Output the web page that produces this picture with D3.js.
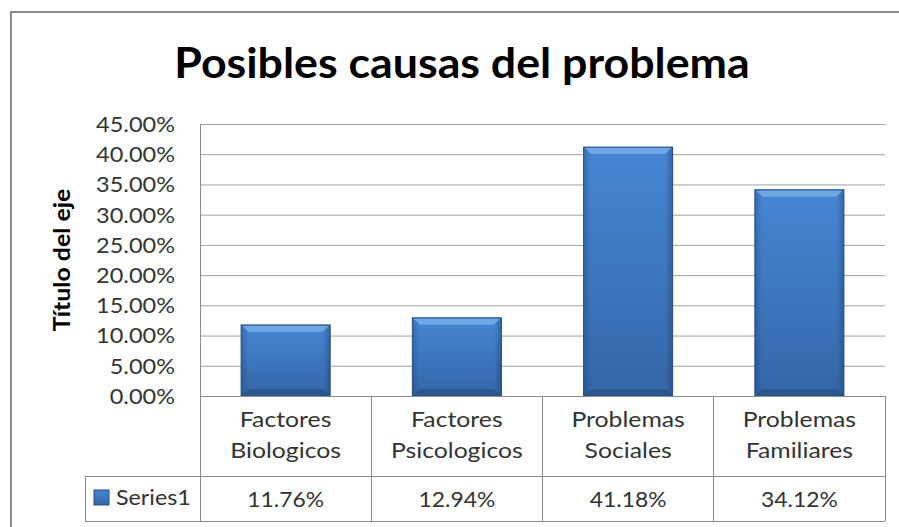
<!DOCTYPE html>
<html>
<head>
<meta charset="utf-8">
<script src="https://cdn.jsdelivr.net/npm/d3@7"></script>
<style>
  body { margin: 0; background: #fff; }
  svg { display: block; font-family: Lato, "Open Sans", sans-serif; }
</style>
</head>
<body>
<div id="chart"></div>
<script>
// Chart data
const categories = ["Factores Biologicos", "Factores Psicologicos", "Problemas Sociales", "Problemas Familiares"];
const seriesName = "Series1";
const values = [0.1176, 0.1294, 0.4118, 0.3412];
const yTicks = [0, 0.05, 0.10, 0.15, 0.20, 0.25, 0.30, 0.35, 0.40, 0.45];
const chartTitle = "Posibles causas del problema";
const yAxisTitle = "Título del eje";

const width = 899;
const height = 527;
const plot = { left: 200, right: 885, top: 124, bottom: 396 };
const table = { legendLeft: 85, rowMid: 476, bottom: 521 };

const pct = d3.format(".2%");

// the original picture is a little wider than tall, so text gets a horizontal stretch
function stretched(x, y, k) {
    return `translate(${x},${y}) scale(${k},1)`;
}

const svg = d3.select("#chart").append("svg")
    .attr("width", width)
    .attr("height", height);

// gradients for the bevelled bars
const defs = svg.append("defs");
const grad = defs.append("linearGradient")
    .attr("id", "barFill").attr("x1", 0).attr("y1", 0).attr("x2", 0).attr("y2", 1);
grad.append("stop").attr("offset", "0%").attr("stop-color", "#4686d4");
grad.append("stop").attr("offset", "100%").attr("stop-color", "#3466a7");
const side = defs.append("linearGradient")
    .attr("id", "barSide").attr("x1", 0).attr("y1", 0).attr("x2", 1).attr("y2", 0);
side.append("stop").attr("offset", "0%").attr("stop-color", "#1e3f6a").attr("stop-opacity", 0.35);
side.append("stop").attr("offset", "8%").attr("stop-color", "#1e3f6a").attr("stop-opacity", 0);
side.append("stop").attr("offset", "92%").attr("stop-color", "#1e3f6a").attr("stop-opacity", 0);
side.append("stop").attr("offset", "100%").attr("stop-color", "#1e3f6a").attr("stop-opacity", 0.45);

// outer chart border (runs off the right and bottom of the picture)
svg.append("rect")
    .attr("x", 11).attr("y", 12)
    .attr("width", width).attr("height", height)
    .attr("fill", "#fff")
    .attr("stroke", "#8a8a8a")
    .attr("stroke-width", 2);

// scales
const x = d3.scaleBand()
    .domain(categories)
    .range([plot.left, plot.right])
    .paddingInner(0.48)
    .paddingOuter(0.24);

const col = d3.scaleBand()
    .domain(categories)
    .range([plot.left, plot.right]);

const y = d3.scaleLinear()
    .domain([0, 0.45])
    .range([plot.bottom, plot.top]);

// gridlines
svg.append("g")
    .attr("transform", `translate(${plot.left},0)`)
    .call(d3.axisLeft(y).tickValues(yTicks).tickSize(-(plot.right - plot.left)).tickFormat(""))
    .call(g => g.select(".domain").remove())
    .selectAll("line")
    .attr("stroke", "#a0a0a0");

// y axis labels
svg.append("g")
    .attr("transform", `translate(${plot.left},0)`)
    .call(d3.axisLeft(y).tickValues(yTicks).tickSize(0).tickFormat(pct))
    .call(g => g.select(".domain").remove())
    .selectAll("text")
    .attr("x", null)
    .attr("dy", "0.35em")
    .attr("transform", stretched(-25, 0, 1.12))
    .attr("fill", "#333")
    .style("font-family", "Lato")
    .style("font-size", "21px");

// bars
const bars = svg.append("g").selectAll("g")
    .data(values)
    .join("g");

bars.append("rect")
    .attr("x", (d, i) => x(categories[i]))
    .attr("y", d => y(d))
    .attr("width", x.bandwidth())
    .attr("height", d => y(0) - y(d))
    .attr("fill", "url(#barFill)")
    .attr("stroke", "#2b4f7e")
    .attr("stroke-width", 1);

bars.append("rect")
    .attr("x", (d, i) => x(categories[i]))
    .attr("y", d => y(d))
    .attr("width", x.bandwidth())
    .attr("height", d => y(0) - y(d))
    .attr("fill", "url(#barSide)");

// top highlight of the bevel
bars.append("path")
    .attr("d", (d, i) => {
        const x0 = x(categories[i]), x1 = x0 + x.bandwidth(), y0 = y(d);
        return `M${x0 + 1},${y0 + 1}H${x1 - 1}L${x1 - 8},${y0 + 7}H${x0 + 8}Z`;
    })
    .attr("fill", "#8cbcf0")
    .attr("opacity", 0.6);

// bottom shadow of the bevel
bars.append("path")
    .attr("d", (d, i) => {
        const x0 = x(categories[i]), x1 = x0 + x.bandwidth(), yb = y(0);
        return `M${x0 + 1},${yb - 1}H${x1 - 1}L${x1 - 8},${yb - 7}H${x0 + 8}Z`;
    })
    .attr("fill", "#1f426e")
    .attr("opacity", 0.45);

// data table lines
const lines = svg.append("g")
    .attr("stroke", "#8c8c8c")
    .attr("stroke-width", 1)
    .attr("shape-rendering", "crispEdges");

lines.append("line")
    .attr("x1", plot.left).attr("x2", plot.left)
    .attr("y1", plot.top).attr("y2", table.bottom);

lines.selectAll(".colline")
    .data(categories)
    .join("line")
    .attr("class", "colline")
    .attr("x1", d => col(d) + col.bandwidth())
    .attr("x2", d => col(d) + col.bandwidth())
    .attr("y1", plot.bottom).attr("y2", table.bottom);

lines.append("line")
    .attr("x1", plot.left).attr("x2", plot.right)
    .attr("y1", plot.bottom).attr("y2", plot.bottom);

lines.append("line")
    .attr("x1", table.legendLeft).attr("x2", plot.right)
    .attr("y1", table.rowMid).attr("y2", table.rowMid);

lines.append("line")
    .attr("x1", table.legendLeft).attr("x2", plot.right)
    .attr("y1", table.bottom).attr("y2", table.bottom);

lines.append("line")
    .attr("x1", table.legendLeft).attr("x2", table.legendLeft)
    .attr("y1", table.rowMid).attr("y2", table.bottom);

// category labels (two lines each)
categories.forEach(cat => {
    svg.append("g").selectAll("text")
        .data(cat.split(" "))
        .join("text")
        .attr("transform", (w, i) => stretched(col(cat) + col.bandwidth() / 2, 427 + i * 31, 1.18))
        .attr("text-anchor", "middle")
        .attr("fill", "#333")
        .style("font-size", "21px")
        .text(w => w);
});

// value row
svg.append("g").selectAll("text")
    .data(values)
    .join("text")
    .attr("transform", (d, i) => stretched(col(categories[i]) + col.bandwidth() / 2, 507, 1.09))
    .attr("text-anchor", "middle")
    .attr("fill", "#333")
    .style("font-size", "21px")
    .text(d => pct(d));

// legend key in the table
svg.append("rect")
    .attr("x", 94).attr("y", 490)
    .attr("width", 15).attr("height", 15)
    .attr("fill", "url(#barFill)")
    .attr("stroke", "#2b4f7e");

svg.append("text")
    .attr("transform", stretched(116, 505, 1.11))
    .attr("fill", "#333")
    .style("font-size", "21px")
    .text(seriesName);

// axis title
svg.append("text")
    .attr("transform", "translate(70,260) rotate(-90) scale(1.13,1)")
    .attr("text-anchor", "middle")
    .attr("fill", "#000")
    .style("font-size", "22px")
    .style("font-weight", "bold")
    .text(yAxisTitle);

// chart title
svg.append("text")
    .attr("transform", stretched(462, 78, 1.065))
    .attr("text-anchor", "middle")
    .attr("fill", "#000")
    .style("font-size", "42px")
    .style("font-weight", "bold")
    .text(chartTitle);
</script>
</body>
</html>
